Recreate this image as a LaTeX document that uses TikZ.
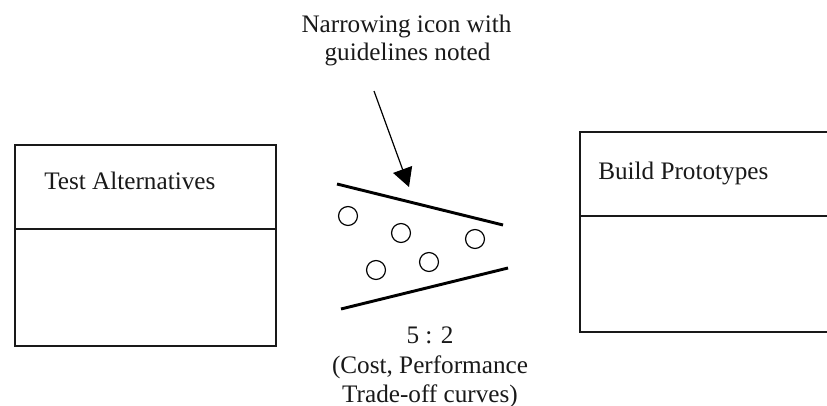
\documentclass[tikz,border=0pt]{standalone}
\usepackage{fontspec}
\setmainfont{Liberation Serif}
\usetikzlibrary{arrows.meta}
\tikzset{
  x=0.75pt,y=-0.75pt,
  boxshape/.style={draw=black!90,line width=1.2pt,inner sep=0pt,anchor=north west},
  divider/.style={draw=black!90,line width=0.95pt},
  wall/.style={draw=black,line width=2.2pt},
  dot/.style={circle,draw=black,line width=0.9pt,minimum size=14.2pt,inner sep=0pt},
  label/.style={font=\fontsize{18.9pt}{22pt}\selectfont,text=black!90,inner sep=0pt},
  pointer/.style={draw=black,line width=0.9pt,-{Triangle[length=14pt,width=15pt]}}
}
\begin{document}
\begin{tikzpicture}
\useasboundingbox (0,0) rectangle (827,406);
\clip (0,0) rectangle (827,406);
\node[boxshape,minimum width=195.75pt,minimum height=150.75pt] (left) at (14,144) {};
\node[boxshape,minimum width=195.75pt,minimum height=150pt] (right) at (579,131) {};
\coordinate (la) at (15,229); \coordinate (lb) at (277,229);
\coordinate (ra) at (579,216); \coordinate (rb) at (840,216);
\draw[divider] (la) -- (lb);
\draw[divider] (ra) -- (rb);
\node[label,anchor=base west] (t1) at (44,189) {Test Alternatives};
\node[label,anchor=base west] (t2) at (598,179) {Build Prototypes};
\node[label,anchor=base] (n1) at (406.5,33) {Narrowing icon with};
\node[label,anchor=base] (n2) at (407.5,61) {guidelines noted};
\node[label,anchor=base] (c1) at (430,343) {5 : 2};
\node[label,anchor=base] (c2) at (430,373) {(Cost, Performance};
\node[label,anchor=base] (c3) at (430,402) {Trade-off curves)};
\coordinate (wa) at (337,184); \coordinate (wb) at (503,225);
\coordinate (wc) at (341,309); \coordinate (wd) at (508,268);
\draw[wall] (wa) -- (wb);
\draw[wall] (wc) -- (wd);
\coordinate (pa) at (374,91); \coordinate (pb) at (409,187);
\draw[pointer] (pa) -- (pb);
\node[dot] (d1) at (348,216) {};
\node[dot] (d2) at (401,233) {};
\node[dot] (d3) at (475,239) {};
\node[dot] (d4) at (376,270) {};
\node[dot] (d5) at (429,262) {};
\end{tikzpicture}
\end{document}
